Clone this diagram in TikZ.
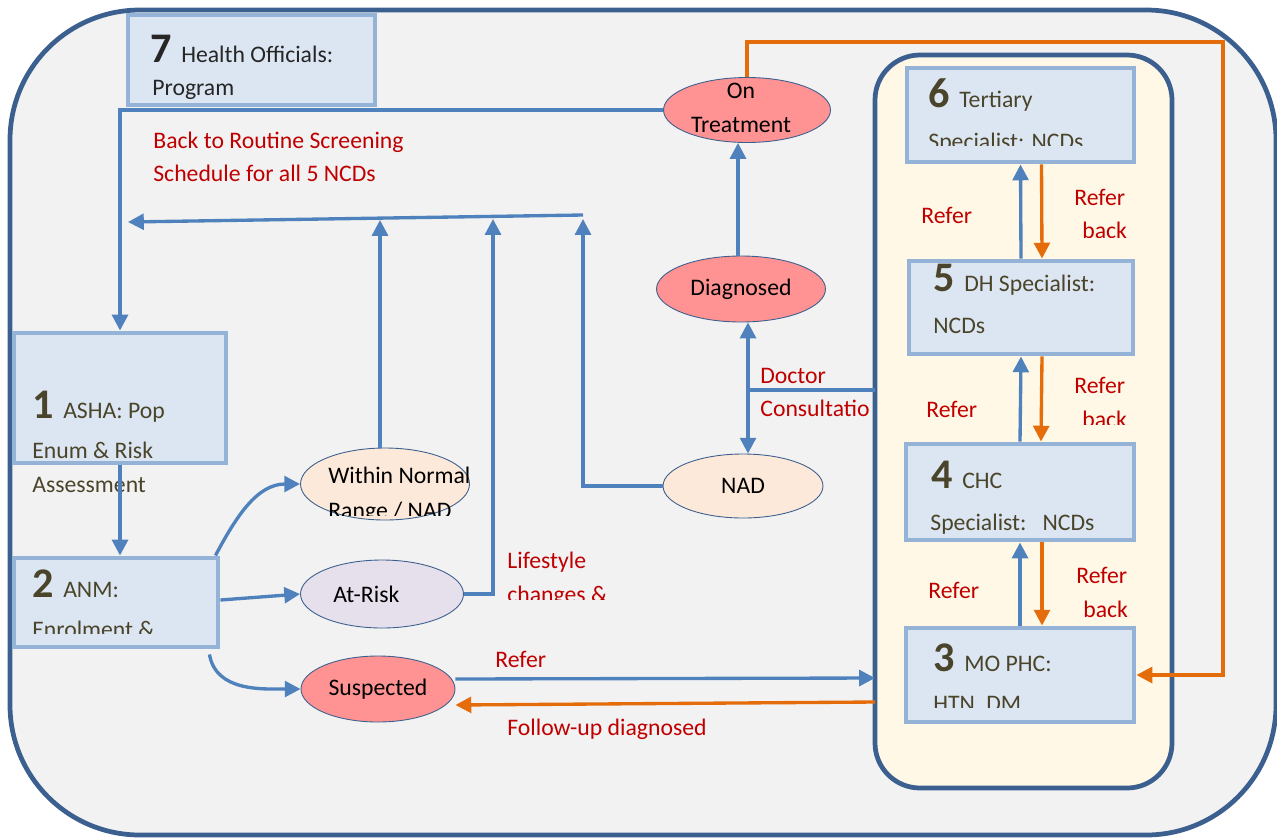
\documentclass[tikz,border=0pt]{standalone}
\usepackage{fontspec}
\setmainfont{Carlito}
\usetikzlibrary{arrows.meta, positioning, calc, shapes.geometric}

\definecolor{framebl}{HTML}{3B5F8E}
\definecolor{bggray}{HTML}{F2F2F2}
\definecolor{cream}{HTML}{FFF8E6}
\definecolor{boxfill}{HTML}{DCE6F2}
\definecolor{boxedge}{HTML}{95B3D7}
\definecolor{boxtext}{HTML}{4A452A}
\definecolor{arrblue}{HTML}{4F81BD}
\definecolor{arrorange}{HTML}{E46C0A}
\definecolor{labred}{HTML}{C00000}
\definecolor{pinkres}{HTML}{FF9393}
\definecolor{peachres}{HTML}{FDE9D9}
\definecolor{lilacres}{HTML}{E5E0EC}

\newcommand{\tiernum}[1]{{\fontsize{24}{24}\selectfont\bfseries #1\ }}

\begin{document}
\begin{tikzpicture}[x=0.02cm, y=-0.02cm,
    tier/.style = {draw=boxedge, line width=2.8pt, fill=boxfill, inner sep=0},
    result/.style = {ellipse, draw=framebl, line width=0.5pt, inner sep=0,
                     font=\fontsize{13.5}{13.5}\selectfont},
    boxtxt/.style = {anchor=base west, inner sep=0, text=boxtext,
                     font=\fontsize{13.5}{13.5}\selectfont},
    restxt/.style = {anchor=base, inner sep=0, font=\fontsize{13.5}{13.5}\selectfont},
    redtxt/.style = {anchor=base west, inner sep=0, text=labred,
                     font=\fontsize{13.5}{13.5}\selectfont},
    bluearr/.style = {draw=arrblue, line width=1.9pt, -{Triangle[width=9pt,length=9pt]}},
    orarr/.style = {draw=arrorange, line width=1.9pt, -{Triangle[width=9pt,length=9pt]}},
    blueline/.style = {draw=arrblue, line width=1.9pt}]

    \useasboundingbox (0,0) rectangle (1277,839);

    % frames
    \draw[fill=bggray, draw=framebl, line width=2.7pt, rounded corners=2.6cm]
        (10,10) rectangle (1276,835);
    \draw[fill=cream, draw=framebl, line width=2.7pt, rounded corners=0.9cm]
        (875,55) rectangle (1172,788);

    % tiers
    \node (health) [tier, minimum width=4.94cm, minimum height=1.8cm] at (251.5,60) {};
    \node (asha) [tier, minimum width=4.24cm, minimum height=2.6cm] at (120,398) {};
    \node (anm) [tier, minimum width=4.08cm, minimum height=1.78cm] at (116,602.5) {};
    \node (tert) [tier, minimum width=4.54cm, minimum height=1.88cm] at (1020.5,115) {};
    \node (dh) [tier, minimum width=4.48cm, minimum height=1.86cm] at (1021,307.5) {};
    \node (chc) [tier, minimum width=4.56cm, minimum height=1.92cm] at (1020,492) {};
    \node (mo) [tier, minimum width=4.56cm, minimum height=1.88cm] at (1020,675) {};

    % results
    \node (ontreat) [result, fill=pinkres, minimum width=3.34cm, minimum height=1.3cm] at (747,110) {};
    \node (diag) [result, fill=pinkres, minimum width=3.38cm, minimum height=1.32cm] at (741,289) {Diagnosed};
    \node (nad) [result, fill=peachres, minimum width=3.2cm, minimum height=1.28cm] at (743,486) {NAD};
    \node (normal) [result, fill=peachres, minimum width=3.38cm, minimum height=1.44cm] at (385,484) {};
    \node (atrisk) [result, fill=lilacres, minimum width=3.26cm, minimum height=1.36cm] at (382,594) {};
    \node (susp) [result, fill=pinkres, minimum width=3.08cm, minimum height=1.32cm] at (378,689) {Suspected};

    % texts in tiers
    \node (t7a) [boxtxt, text=black!85] at (150,62) {\tiernum{7}Health Officials:};
    \node (t7b) [boxtxt, text=black!85] at (152,95) {Program};
    \node (t1a) [boxtxt] at (32,418) {\tiernum{1}ASHA: Pop};
    \node (t1b) [boxtxt] at (32,458) {Enum \& Risk};
    \node (t1c) [boxtxt] at (32,492) {Assessment};
    \node (t2a) [boxtxt] at (32,597) {\tiernum{2}ANM:};
    \begin{scope}
        \clip (20,560) rectangle (215,633);
        \node (t2b) [boxtxt] at (32,637) {Enrolment \&};
    \end{scope}
    \node (t6a) [boxtxt] at (928,107) {\tiernum{6}Tertiary};
    \begin{scope}
        \clip (912,120) rectangle (1130,145);
        \node (t6b) [boxtxt] at (928,149) {Specialist: NCDs};
    \end{scope}
    \node (t5a) [boxtxt] at (933,291) {\tiernum{5}DH Specialist:};
    \node (t5b) [boxtxt] at (933,333) {NCDs};
    \node (t4a) [boxtxt] at (931,488) {\tiernum{4}CHC};
    \node (t4b) [boxtxt] at (930,530) {Specialist:\ \ \ NCDs};
    \node (t3a) [boxtxt] at (933,671) {\tiernum{3}MO PHC:};
    \begin{scope}
        \clip (912,690) rectangle (1130,707);
        \node (t3b) [boxtxt] at (933,711) {HTN, DM};
    \end{scope}

    % texts in results
    \node (ontreatA) [restxt] at (741,98) {On};
    \node (ontreatB) [restxt] at (741,132) {Treatment};
    \node (normalA) [restxt, anchor=base west] at (328,483) {Within Normal};
    \begin{scope}
        \clip (300,495) rectangle (470,515);
        \node (normalB) [restxt, anchor=base west] at (328,518) {Range / NAD};
    \end{scope}
    \node (atriskA) [restxt, anchor=base west] at (333,602) {At-Risk};

    % red labels
    \node (backA) [redtxt] at (153,148) {Back to Routine Screening};
    \node (backB) [redtxt] at (153,181) {Schedule for all 5 NCDs};
    \node (lifeA) [redtxt] at (507,568) {Lifestyle};
    \begin{scope}
        \clip (500,580) rectangle (620,599);
        \node (lifeB) [redtxt] at (507,602) {changes \&};
    \end{scope}
    \node (docA) [redtxt] at (760,383) {Doctor};
    \node (docB) [redtxt] at (760,416) {Consultatio};
    \node (ref65) [redtxt] at (921,223) {Refer};
    \node (rb65a) [redtxt] at (1074,205) {Refer};
    \begin{scope}
        \clip (1070,215) rectangle (1135,237);
        \node (rb65b) [redtxt] at (1082,238) {back};
    \end{scope}
    \node (ref54) [redtxt] at (926,417) {Refer};
    \node (rb54a) [redtxt] at (1074,393) {Refer};
    \begin{scope}
        \clip (1070,405) rectangle (1135,424);
        \node (rb54b) [redtxt] at (1082,427) {back};
    \end{scope}
    \node (ref43) [redtxt] at (928,598) {Refer};
    \node (rb43a) [redtxt] at (1076,583) {Refer};
    \node (rb43b) [redtxt] at (1083,617) {back};
    \node (refS) [redtxt] at (495,667) {Refer};
    \node (follow) [redtxt] at (507,735) {Follow-up diagnosed};

    % helper points
    \coordinate (lt) at (128,222);
    \coordinate (rt) at (583,215);
    \coordinate (up1) at (380,220);
    \coordinate (up2) at (493,219);
    \coordinate (up3) at (583,219);
    \coordinate (dc) at (748,390);
    \coordinate (dcin) at (875,390);
    \coordinate (rin) at (875,678);
    \coordinate (fin) at (875,702);
    \coordinate (loop) at (1223,42);

    % blue connectors
    \draw[bluearr] (ontreat.west) -| (asha.north);
    \draw[bluearr] (rt) -- (lt);
    \draw[bluearr] (normal.north -| up1) -- (up1);
    \draw[bluearr] (atrisk.east) -| (up2);
    \draw[bluearr] (nad.west) -| (up3);
    \draw[bluearr] ($(diag.north)+(-3,0)$) -- ($(diag.north |- ontreat.south)+(-3,0)$);
    \draw[blueline] (dcin) -- (dc);
    \draw[bluearr] (dc) -- (dc |- diag.south);
    \draw[bluearr] (dc) -- (dc |- nad.north);
    \draw[bluearr] (asha.south) -- (asha.south |- anm.north);
    \draw[bluearr] ([xshift=-0.1cm]anm.north east) to[out=62, in=180] (normal.west);
    \draw[bluearr] ([yshift=0.05cm]anm.east) -- (atrisk.west);
    \draw[bluearr] ([xshift=-0.22cm,yshift=-0.1cm]anm.south east) to[out=-80, in=180] (susp.west);
    \draw[bluearr] ($(susp.east)+(0,-10)$) -- (rin);
    \draw[bluearr] (dh.north) -- (tert.south);
    \draw[bluearr] (chc.north) -- (dh.south);
    \draw[bluearr] (mo.north) -- (chc.south);

    % orange connectors
    \draw[orarr] (fin) -- ($(susp.east)+(0,16)$);
    \draw[orarr] (ontreat.north) |- (loop) |- (mo.east);
    \draw[orarr] ($(tert.south)+(21,0)$) -- ($(dh.north)+(21,0)$);
    \draw[orarr] ($(dh.south)+(21,0)$) -- ($(chc.north)+(21,0)$);
    \draw[orarr] ($(chc.south)+(22,0)$) -- ($(mo.north)+(22,0)$);
\end{tikzpicture}
\end{document}
